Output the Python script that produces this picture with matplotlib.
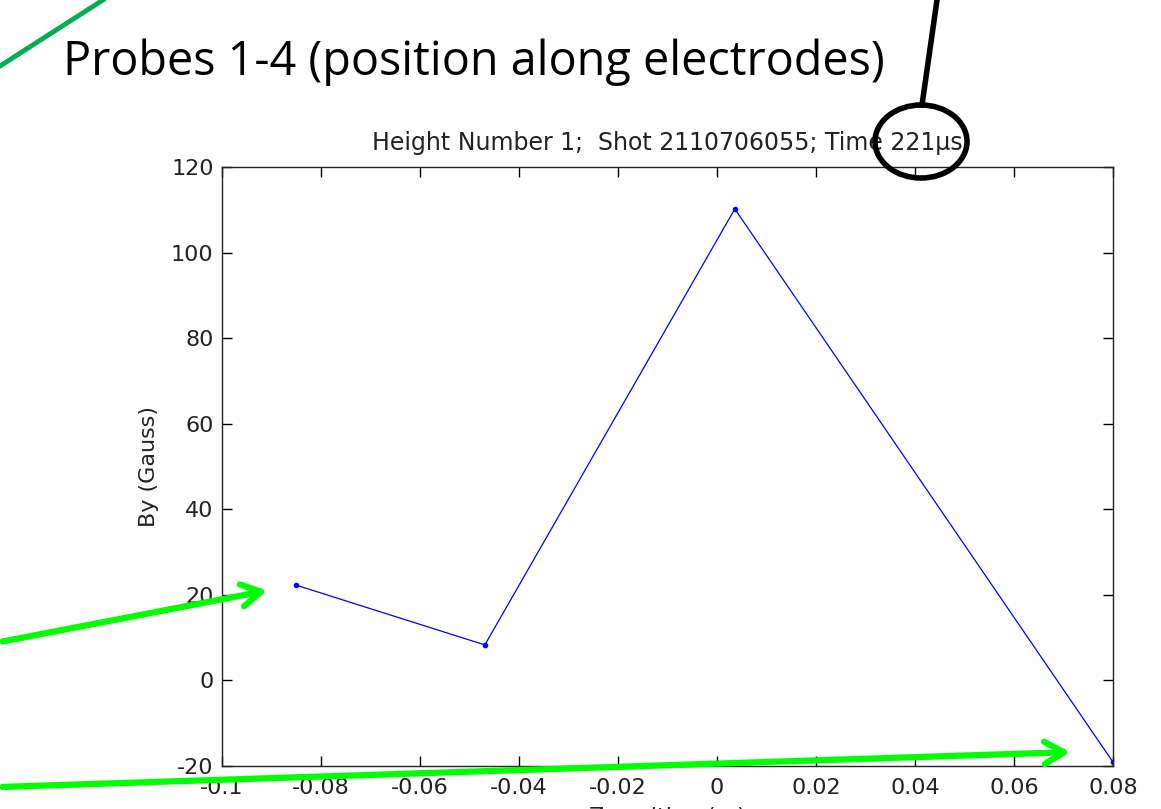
import matplotlib.pyplot as plt
from matplotlib.patches import Ellipse, FancyArrowPatch
from matplotlib.lines import Line2D

# probe positions along electrodes and measured field
z_pos = [-0.0851, -0.0469, 0.0036, 0.0800]
by_gauss = [22.3, 8.3, 110.2, -19.1]

x_ticks = [-0.1, -0.08, -0.06, -0.04, -0.02, 0, 0.02, 0.04, 0.06, 0.08]
x_tick_labels = ['-0.1', '-0.08', '-0.06', '-0.04', '-0.02', '0', '0.02', '0.04', '0.06', '0.08']
y_ticks = [-20, 0, 20, 40, 60, 80, 100, 120]

W, H = 1161, 809
fig = plt.figure(figsize=(W / 100, H / 100), dpi=100)
ax = fig.add_axes([222 / W, 1 - 766 / H, (1113 - 222) / W, (766 - 167) / H])

txt = dict(family='DejaVu Sans', color='#222222', fontsize=16)

ax.plot(z_pos, by_gauss, color='blue', lw=0.9, marker='.', ms=6)
ax.set_xlim(-0.1, 0.08)
ax.set_ylim(-20, 120)
ax.set_xticks(x_ticks)
ax.set_xticklabels(x_tick_labels)
ax.set_yticks(y_ticks)
ax.set_yticklabels([str(v) for v in y_ticks])
ax.tick_params(direction='in', length=7, top=True, right=True, width=1,
               labelsize=16, labelcolor='#222222')
ax.tick_params(axis='x', pad=9)
ax.tick_params(axis='y', pad=6)
for lab in ax.get_xticklabels() + ax.get_yticklabels():
    lab.set_family('DejaVu Sans')
for s in ax.spines.values():
    s.set_linewidth(1)
    s.set_color('#222222')
ax.set_ylabel('By (Gauss)', labelpad=9, **txt)
ax.set_xlabel('Z position (m)', labelpad=6, **txt)
ax.set_title('Height Number 1;  Shot 2110706055; Time 221\u03bcs', pad=12,
             family='DejaVu Sans', color='#222222', fontsize=17)

# slide annotations on top, in pixel coords
def px(x, y):
    return (x / W, 1 - y / H)

fig.text(*px(63, 75), 'Probes 1-4 (position along electrodes)', fontsize=33.7,
         family='Open Sans', color='black', va='baseline', ha='left')

fig.add_artist(Line2D([0, 103 / W], [1 - 66 / H, 1], transform=fig.transFigure,
                      color='#00b050', lw=3.5))
fig.add_artist(Line2D([937 / W, 922 / W], [1, 1 - 105 / H], transform=fig.transFigure,
                      color='black', lw=4))
fig.add_artist(Ellipse(px(921, 141.5), 92 / W, 73 / H, transform=fig.transFigure,
                       fill=False, ec='black', lw=4))

for start, end in [((0, 642), (270, 590)), ((0, 787), (1073, 752))]:
    fig.add_artist(FancyArrowPatch(px(*start), px(*end), transform=fig.transFigure,
                                   arrowstyle='->,head_length=14,head_width=8',
                                   color='#00ff00', lw=4.5, mutation_scale=1))

fig.savefig('out.png', dpi=100)
